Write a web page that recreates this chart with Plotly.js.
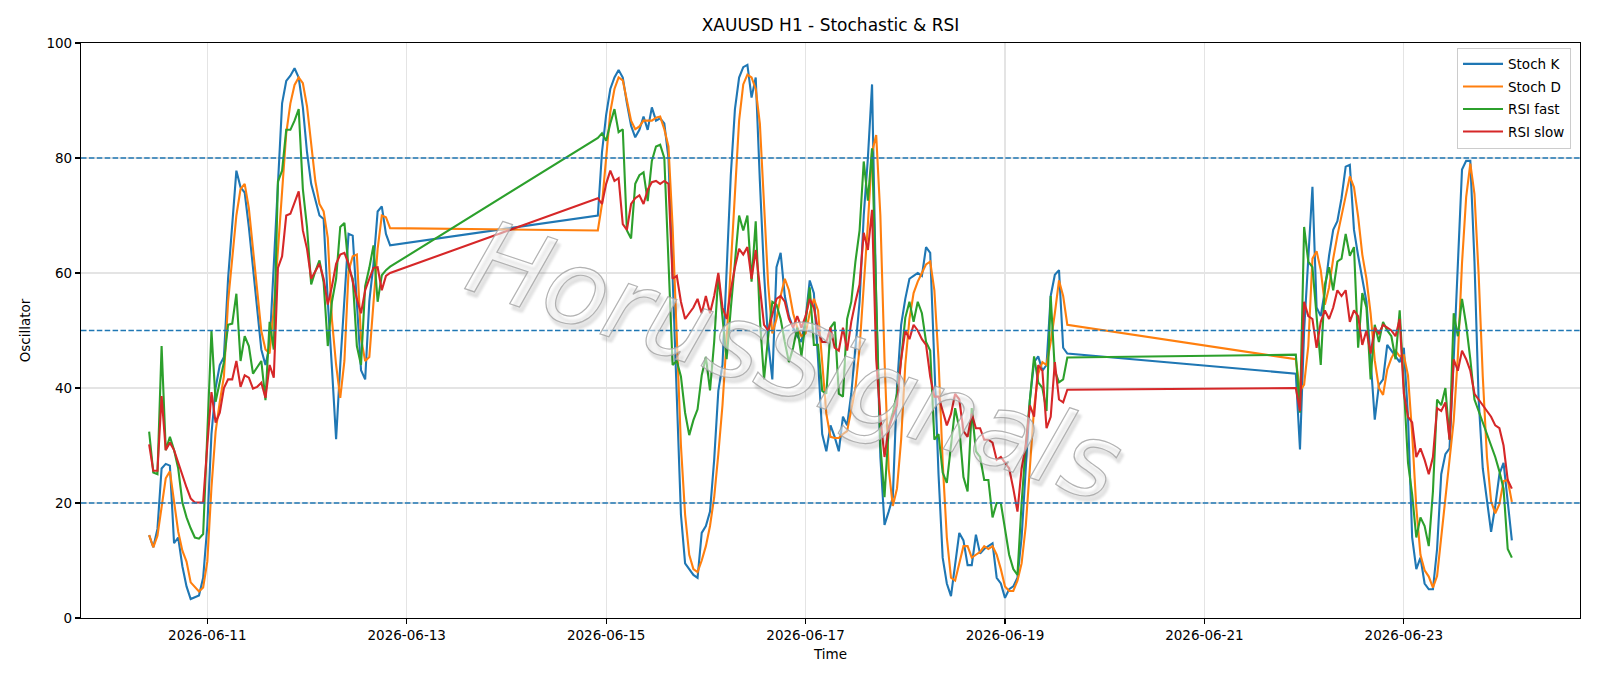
<!DOCTYPE html>
<html>
<head>
<meta charset="utf-8">
<script src="https://cdn.plot.ly/plotly-3.0.1.min.js"></script>
<style>
  html, body { margin: 0; padding: 0; background: #ffffff; }
  #chart { width: 1600px; height: 686px; }
</style>
</head>
<body>
<div id="chart"></div>
<script>
// ---------------- DATA ----------------
// Three continuous hourly blocks (market closed in between)
const blockStarts = ['2026-06-10T10:00:00Z', '2026-06-14T22:00:00Z', '2026-06-21T22:00:00Z'];

// Block 1
const stochK_1 = [14.4, 12.3, 15.5, 26, 26.8, 26.5, 13, 14, 9, 5.5, 3.3, 3.6, 3.9, 7, 16, 32, 40, 44, 45.4, 59, 68, 77.8, 74.9, 74, 68, 60.3, 53.8, 46.7, 44, 47.3, 61.6, 75.9, 89.5, 93.4, 94.3, 95.6, 94, 88.8, 81, 75.5, 72.6, 70, 69.4, 55.1, 43.5, 31.1, 44, 55, 66.8, 66.5, 55.1, 43.1, 41.5, 55.1, 61.6, 70.7, 71.6, 66.8, 64.8];
const stochD_1 = [14.4, 12.3, 14.3, 19.5, 24.3, 25.5, 20, 15, 11.7, 9.8, 6.2, 5.3, 4.6, 5.3, 9.8, 22.7, 32.4, 37.6, 42, 55, 62.9, 70, 74.6, 75.5, 71.3, 64.2, 57.7, 49.9, 46.7, 46, 53.8, 63.5, 74.6, 84.3, 89.5, 92.7, 94, 93, 89, 82, 76, 72, 70.7, 66.1, 51.9, 44, 38.3, 44.7, 60.3, 62.9, 63.2, 48.6, 44.7, 45.4, 55, 64.2, 70, 69.7, 67.8];
const rsiFast_1 = [32.4, 25.3, 25, 47.3, 29.2, 31.5, 29.2, 26, 20.1, 17.5, 15.6, 14, 13.8, 14.6, 32, 50, 37.6, 41, 44.5, 51, 51.2, 56.4, 44.7, 49, 47.3, 42.5, 43.5, 44.7, 37.9, 51.5, 46.7, 75.9, 77.8, 84.9, 84.9, 86.5, 88.5, 74.6, 68, 58, 60.3, 62.2, 58.4, 47.3, 55, 59, 68, 68.7, 60.9, 59, 47.3, 44, 57.7, 60.9, 64.8, 55, 59.6, 60.5, 61.1];
const rsiSlow_1 = [30.2, 25.6, 25.6, 38.6, 29.2, 30.5, 29.2, 26.9, 24.7, 22.7, 20.8, 20.1, 20.1, 20.1, 30, 39.3, 34, 35.7, 40, 41.5, 41.5, 44.7, 40.2, 42.2, 41.8, 39.9, 40.2, 40.9, 38.3, 44, 41.8, 60.9, 62.9, 70, 70.3, 72.3, 74.2, 67.4, 64.2, 59, 60.3, 61.6, 59, 54.5, 57.7, 61.6, 63.2, 63.5, 61.6, 58.4, 55.5, 53, 57, 59, 60.9, 61, 57, 59.5, 60];

// Block 2
const stochK_2 = [70, 81, 87.5, 92, 94, 95.3, 94, 89.5, 85.6, 83.6,
  84.9, 87.2, 84.9, 88.8, 86.5, 86.9, 86, 80, 60, 38,
  18, 9.5, 8.5, 7.5, 7, 14.8, 16, 18.5, 27.5, 39.5,
  44, 62, 77, 88.5, 94, 95.8, 96.2, 90.5, 94, 76,
  60, 48, 41.5, 61, 63.5, 56, 52.5, 50.5, 49, 48,
  52, 58.7, 56.5, 45, 32, 29, 33.5, 31.5, 29, 35,
  33.5, 39, 47, 55, 70, 80, 92.8, 55, 28, 16.2,
  18.5, 21, 40, 51, 55.5, 59, 59.5, 60, 59.5, 64.5,
  63.5, 45, 25, 10.5, 6, 3.8, 9.5, 14.8, 13.5, 9.2,
  9.2, 14.5, 11.2, 12, 12.5, 13, 7, 6, 3.5, 5,
  5.5, 7, 14, 26, 38, 44.5, 45.5, 43, 44, 56,
  59.7, 60.5, 47, 46];
const stochD_2 = [67.4, 72, 80, 88, 92, 94, 93.5, 90, 86.5, 85,
  85.5, 86.5, 86.5, 86.5, 87, 87.2, 85, 82, 68, 50,
  30, 18, 11, 8.5, 8, 10, 12.5, 16, 21, 28.5,
  37, 48.5, 61, 75, 86.5, 92.8, 94.5, 94, 92, 86,
  72, 58, 49.5, 52, 56, 59, 57, 53, 50.5, 49,
  49.5, 53, 55.5, 53.5, 44.5, 35.5, 31.5, 31.3, 31.3, 32,
  32.5, 36, 40, 47, 57.5, 68.5, 81, 84, 70, 45,
  26, 19.5, 22.5, 31, 44, 52, 56.5, 58.5, 60, 61.5,
  62, 57, 45, 27, 14, 7, 6.5, 9.5, 12.5, 12.5,
  10.5, 11, 11.5, 12.5, 12, 12.5, 11, 8.5, 5.5, 4.7,
  4.7, 6.5, 9.5, 16, 26.5, 36.5, 42.5, 44.5, 44, 48,
  53, 58.7, 56, 51];
const rsiFast_2 = [83.5, 84.3, 83, 86, 88.5, 84.5, 85, 67.4, 66, 75.5,
  77, 77.5, 72.5, 79.5, 82, 82.3, 80, 62, 44, 44.7,
  42, 35.7, 31.8, 34.4, 36.3, 42.2, 45.4, 39.6, 48, 59.6,
  51.9, 45, 53.8, 61.6, 70, 67.4, 70, 58.5, 69, 52,
  41.5, 49, 55, 54.5, 52, 48, 44.5, 47, 50.5, 45.5,
  52, 57.5, 47.5, 47.5, 39.5, 39, 50.5, 51.5, 39, 38.5,
  52, 55, 62, 67.4, 79.4, 72.6, 81.7, 55, 30, 21,
  33, 35.7, 39, 45, 52.2, 55, 51.5, 55, 53, 48,
  46.5, 31, 32, 25.3, 23.5, 30, 36.5, 33, 24.5, 22,
  36.5, 29, 28, 24, 24, 17.5, 20, 20, 15.5, 11,
  8.5, 7.5, 20, 30, 38, 45.5, 41, 40, 36, 56,
  43, 41, 41.5, 45.3];
const rsiSlow_2 = [73, 72, 75.5, 77.8, 76, 76.5, 68.5, 67.5, 72, 73,
  73.5, 72, 74.5, 75.8, 76, 75.5, 76, 75.5, 59, 59.5,
  55, 52, 53, 54, 55.5, 53, 56, 53, 56, 60,
  54, 52, 57, 61, 64.2, 63.2, 64.5, 59, 64, 57.5,
  51, 50, 53, 55.5, 56, 55, 52, 50.5, 52.5, 50.5,
  52.5, 55.5, 54, 50, 48, 48, 50.5, 47, 46.5, 50.5,
  46.5, 51.5, 55, 58, 67, 64, 71, 45, 35, 28,
  33, 35, 37, 45, 50, 48.5, 51, 50, 48.5, 47.5,
  42, 38.5, 38.5, 36, 33.5, 35.5, 39, 38, 32.5, 31.5,
  35.5, 33, 33, 31, 31, 30.5, 27.5, 28, 27, 26,
  22.5, 18.5, 26, 30, 37, 35, 44, 43, 33, 35,
  44.5, 38, 37.5, 39.7];

// Block 3
const stochK_3 = [42.5, 29.3, 50, 62.5, 75, 54, 52.5, 57, 63, 67.5,
  69, 73, 78.5, 78.8, 67.5, 63, 59, 55, 45, 34.5,
  40.5, 41.5, 47.5, 46.5, 45.5, 44.5, 47, 35, 14, 8.5,
  10.5, 6, 5, 5, 12, 25, 28.5, 29.5, 45, 62,
  78, 79.5, 79.5, 62, 38, 26, 20, 15, 19.5, 25,
  27, 20, 13.5];
const stochD_3 = [45, 39.5, 40.6, 47.3, 62.5, 63.8, 60.5, 54.5, 57.5, 62.5,
  66.5, 70, 73.5, 76.8, 74.9, 69.8, 63.2, 59, 53, 44.8,
  40, 38.8, 43.2, 45.2, 46.5, 45.5, 45.7, 42.2, 32, 19.2,
  11, 8.3, 7.2, 5.3, 7.3, 14, 21.8, 27.7, 34.3, 45.5,
  61.7, 73.2, 79, 73.7, 59.8, 42, 28, 20.3, 18.2, 19.8,
  23.8, 24, 20.2];
const rsiFast_3 = [45.8, 35.7, 68, 62, 61, 52, 44, 58, 61, 57,
  62, 62.5, 66.8, 63, 64.5, 47, 56.5, 54, 41.5, 51,
  48, 51.5, 50, 49, 45, 53.5, 40, 27, 21.5, 14,
  17.5, 16, 12.5, 22, 38, 37, 40, 31, 53, 49,
  55.5, 51, 45, 38, 36, 34, 32, 30, 28, 25.5,
  22.5, 12, 10.5];
const rsiSlow_3 = [40, 36, 55, 52.5, 52, 47, 51.5, 53.5, 52, 54,
  57, 56, 57, 51.5, 53.5, 52.5, 47.5, 50, 46, 50.5,
  49.5, 51, 50.5, 50, 49, 52, 39, 35, 34, 28,
  29.5, 27.5, 25, 28, 36.5, 36, 37.5, 31, 45, 43,
  46.5, 45, 43, 39, 38, 37, 36, 35, 33.5, 33,
  30, 24, 22.5];

const seriesNames = ['Stoch K', 'Stoch D', 'RSI fast', 'RSI slow'];
const seriesColors = ['#1f77b4', '#ff7f0e', '#2ca02c', '#d62728'];
const levels = [20, 50, 80];
const tickStart = '2026-06-11';

// ---------------- BUILD ----------------
function hourly(start, n) {
  const t0 = Date.parse(start);
  const out = [];
  for (let i = 0; i < n; i++) {
    out.push(new Date(t0 + i * 3600000).toISOString().slice(0, 16).replace('T', ' '));
  }
  return out;
}
const times = [].concat(
  hourly(blockStarts[0], stochK_1.length),
  hourly(blockStarts[1], stochK_2.length),
  hourly(blockStarts[2], stochK_3.length)
);
const seriesValues = [
  [].concat(stochK_1, stochK_2, stochK_3),
  [].concat(stochD_1, stochD_2, stochD_3),
  [].concat(rsiFast_1, rsiFast_2, rsiFast_3),
  [].concat(rsiSlow_1, rsiSlow_2, rsiSlow_3)
];

const traces = seriesNames.map((name, i) => ({
  type: 'scatter', mode: 'lines', name: name,
  x: times, y: seriesValues[i],
  line: { color: seriesColors[i], width: 2.1 },
  legendgroup: 'g' + i
}));

// x range with 5% padding like the original
const tFirst = Date.parse(times[0].replace(' ', 'T') + ':00Z');
const tLast = Date.parse(times[times.length - 1].replace(' ', 'T') + ':00Z');
const pad = (tLast - tFirst) * 0.05;
const fmt = t => new Date(t).toISOString().slice(0, 19).replace('T', ' ');

const font = 'DejaVu Sans, sans-serif';
const layout = {
  width: 1600, height: 686,
  margin: { l: 81, r: 20, t: 43, b: 68 },
  paper_bgcolor: '#ffffff', plot_bgcolor: '#ffffff',
  font: { family: font, size: 13.5, color: '#000000' },
  title: {
    text: 'XAUUSD H1 - Stochastic & RSI',
    font: { family: font, size: 17, color: '#000000' },
    x: 0.5, xref: 'paper', xanchor: 'center',
    y: 1 - 25.5 / 686, yref: 'container', yanchor: 'middle'
  },
  xaxis: {
    type: 'date',
    range: [fmt(tFirst - pad), fmt(tLast + pad)],
    tick0: tickStart, dtick: 2 * 86400000, tickformat: '%Y-%m-%d',
    ticks: 'outside', ticklen: 5, tickwidth: 1.1, tickcolor: '#000',
    showline: true, linecolor: '#000', linewidth: 1.1, mirror: true,
    showgrid: true, gridcolor: '#e4e4e4', gridwidth: 1.1,
    zeroline: false,
    tickfont: { family: font, size: 13.5, color: '#000' },
    title: { text: 'Time', font: { family: font, size: 13.5, color: '#000' }, standoff: 7 }
  },
  yaxis: {
    range: [0, 100], dtick: 20, tick0: 0,
    ticks: 'outside', ticklen: 5, tickwidth: 1.1, tickcolor: '#000',
    showline: true, linecolor: '#000', linewidth: 1.1, mirror: true,
    showgrid: true, gridcolor: '#e4e4e4', gridwidth: 1.1,
    zeroline: false,
    tickfont: { family: font, size: 13.5, color: '#000' },
    title: { text: 'Oscillator', font: { family: font, size: 13.5, color: '#000' }, standoff: 12 }
  },
  shapes: levels.map(v => ({
    type: 'line', xref: 'paper', x0: 0, x1: 1, yref: 'y', y0: v, y1: v,
    line: { color: '#1f77b4', width: 1.5, dash: '5.5px,2.4px' }, layer: 'above'
  })),
  legend: {
    x: 0.994, xanchor: 'right', y: 0.992, yanchor: 'top',
    bgcolor: 'rgba(255,255,255,0.85)', bordercolor: '#cccccc', borderwidth: 1,
    font: { family: font, size: 13.5, color: '#000' },
    tracegroupgap: 2, itemwidth: 40
  },
  annotations: [{
    text: 'HorusSignals', xref: 'paper', yref: 'paper', x: 0.476, y: 0.447,
    xanchor: 'center', yanchor: 'middle', showarrow: false, textangle: 18.5,
    font: { family: font, size: 104, color: 'rgba(255,255,255,0.55)', style: 'italic',
            shadow: '4px 4px 3px rgba(0,0,0,0.18)' }
  }],
  showlegend: true,
  hovermode: false
};

Plotly.newPlot('chart', traces, layout, { displayModeBar: false, staticPlot: true }).then(() => {
  document.querySelectorAll('.annotation-text').forEach(el => {
    el.style.stroke = 'rgba(165,165,165,0.85)';
    el.style.strokeWidth = '1.2px';
  });
});
</script>
</body>
</html>
